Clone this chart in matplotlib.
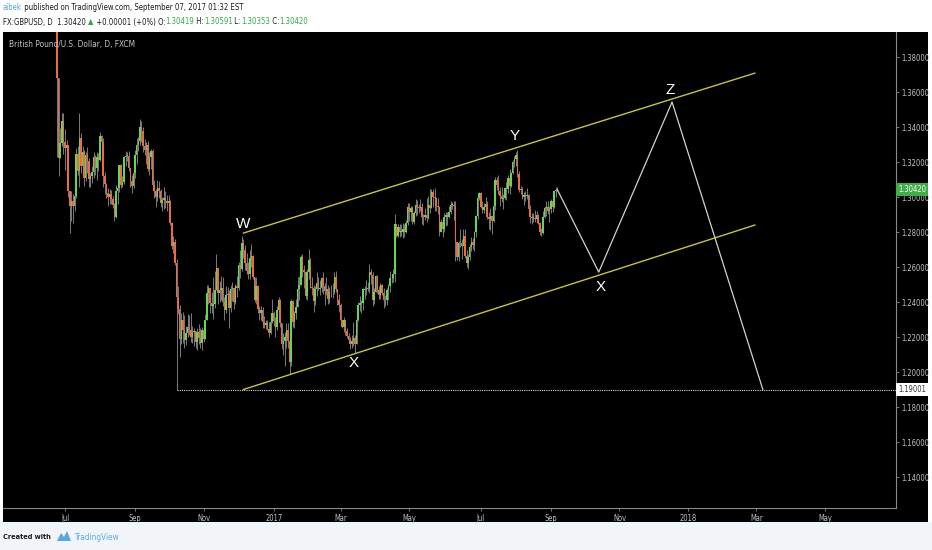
import numpy as np
import pandas as pd
import matplotlib
matplotlib.use("Agg")
import matplotlib.pyplot as plt
from matplotlib import font_manager
from matplotlib.patches import Rectangle, Polygon

W_PX, H_PX = 932, 550
SANS = ["Liberation Sans", "DejaVu Sans"]
# TradingView's screenshot text is narrow; use DejaVu Sans Condensed when it is installed
if any(f.name == "DejaVu Sans" and f.stretch == "condensed"
       for f in font_manager.fontManager.ttflist):
    TXT = dict(family="DejaVu Sans", stretch="condensed")
else:
    TXT = dict(family=SANS)

# ── daily GBPUSD bars (FXCM), Fri 2016-06-24 .. Thu 2017-09-07 ──
first_open = 1.4877
closes = [
    1.3679,
    1.3224, 1.3307, 1.3436, 1.3312, 1.3278,   # Jun 27
    1.3295, 1.3035, 1.2951, 1.2976, 1.2949,   # Jul 4
    1.3005, 1.3245, 1.3150, 1.3340, 1.3177,   # Jul 11
    1.3257, 1.3106, 1.3242, 1.3204, 1.3103,   # Jul 18
    1.3120, 1.3145, 1.3231, 1.3168, 1.3227,   # Jul 25
    1.3213, 1.3348, 1.3314, 1.3122, 1.3075,   # Aug 1
    1.3023, 1.3000, 1.3016, 1.2989, 1.2952,   # Aug 8
    1.2885, 1.3035, 1.3049, 1.3182, 1.3070,   # Aug 15
    1.3087, 1.3227, 1.3237, 1.3235, 1.3165,   # Aug 22
    1.3090, 1.3065, 1.3140, 1.3240, 1.3300,   # Aug 29
    1.3320, 1.3400, 1.3380, 1.3290, 1.3270,   # Sep 5
    1.3300, 1.3160, 1.3230, 1.3265, 1.3070,   # Sep 12
    1.3035, 1.3000, 1.3050, 1.3035, 1.2965,   # Sep 19
    1.2985, 1.2995, 1.2975, 1.2965, 1.2975,   # Sep 26
    1.2850, 1.2720, 1.2745, 1.2625, 1.2430,   # Oct 3
    1.2360, 1.2190, 1.2300, 1.2240, 1.2185,   # Oct 10
    1.2225, 1.2255, 1.2240, 1.2200, 1.2230,   # Oct 17
    1.2235, 1.2170, 1.2230, 1.2195, 1.2165,   # Oct 24
    1.2240, 1.2190, 1.2300, 1.2450, 1.2480,   # Oct 31
    1.2395, 1.2380, 1.2390, 1.2470, 1.2595,   # Nov 7
    1.2450, 1.2470, 1.2480, 1.2400, 1.2355,   # Nov 14
    1.2440, 1.2445, 1.2365, 1.2475, 1.2480,   # Nov 21
    1.2400, 1.2490, 1.2480, 1.2610, 1.2590,   # Nov 28
    1.2735, 1.2700, 1.2625, 1.2580, 1.2560,   # Dec 5
    1.2650, 1.2665, 1.2545, 1.2410, 1.2490,   # Dec 12
    1.2360, 1.2335, 1.2355, 1.2285, 1.2270,   # Dec 19
    1.2280, 1.2245, 1.2225, 1.2285, 1.2340,   # Dec 26
    1.2290, 1.2260, 1.2355, 1.2410, 1.2280,   # Jan 2
    1.2160, 1.2175, 1.2200, 1.2240, 1.2180,   # Jan 9
    1.2060, 1.2405, 1.2285, 1.2335, 1.2370,   # Jan 16
    1.2475, 1.2495, 1.2655, 1.2585, 1.2570,   # Jan 23
    1.2435, 1.2570, 1.2640, 1.2485, 1.2480,   # Jan 30
    1.2405, 1.2475, 1.2510, 1.2475, 1.2480,   # Feb 6
    1.2535, 1.2490, 1.2465, 1.2475, 1.2415,   # Feb 13
    1.2455, 1.2460, 1.2455, 1.2545, 1.2475,   # Feb 20
    1.2410, 1.2385, 1.2295, 1.2260, 1.2295,   # Feb 27
    1.2235, 1.2205, 1.2185, 1.2160, 1.2180,   # Mar 6
    1.2195, 1.2160, 1.2300, 1.2385, 1.2395,   # Mar 13
    1.2395, 1.2475, 1.2470, 1.2475, 1.2475,   # Mar 20
    1.2570, 1.2555, 1.2410, 1.2460, 1.2550,   # Mar 27
    1.2470, 1.2440, 1.2495, 1.2450, 1.2410,   # Apr 3
    1.2410, 1.2470, 1.2490, 1.2535, 1.2540,   # Apr 10
    1.2560, 1.2845, 1.2780, 1.2830, 1.2800,   # Apr 17
    1.2800, 1.2815, 1.2800, 1.2850, 1.2945,   # Apr 24
    1.2915, 1.2935, 1.2860, 1.2910, 1.2955,   # May 1
    1.2945, 1.2940, 1.2945, 1.2885, 1.2885,   # May 8
    1.2900, 1.2880, 1.2955, 1.2935, 1.3030,   # May 15
    1.3000, 1.2995, 1.2950, 1.2945, 1.2800,   # May 22
    1.2855, 1.2820, 1.2885, 1.2895, 1.2885,   # May 29
    1.2915, 1.2955, 1.2955, 1.2950, 1.2745,   # Jun 5
    1.2655, 1.2735, 1.2740, 1.2720, 1.2780,   # Jun 12
    1.2665, 1.2625, 1.2660, 1.2715, 1.2745,   # Jun 19
    1.2725, 1.2800, 1.2890, 1.2995, 1.3025,   # Jun 26
    1.2945, 1.2925, 1.2945, 1.2960, 1.2885,   # Jul 3
    1.2875, 1.2890, 1.2865, 1.2950, 1.3100,   # Jul 10
    1.3070, 1.3035, 1.3005, 1.2990, 1.2995,   # Jul 17
    1.3050, 1.3045, 1.3110, 1.3065, 1.3135,   # Jul 24
    1.3200, 1.3220, 1.3240, 1.3130, 1.3040,   # Jul 31
    1.3045, 1.3000, 1.3010, 1.3005, 1.3010,   # Aug 7
    1.2930, 1.2885, 1.2880, 1.2880, 1.2875,   # Aug 14
    1.2900, 1.2850, 1.2800, 1.2795, 1.2885,   # Aug 21
    1.2935, 1.2945, 1.2920, 1.2930, 1.2975,   # Aug 28
    1.2945, 1.3035, 1.30419, 1.30420,         # Sep 4
]
highs = [
    1.5018,
    1.3533, 1.3394, 1.3480, 1.3481, 1.3391,
    1.3327, 1.3297, 1.3030, 1.3036, 1.3017,
    1.3070, 1.3279, 1.3290, 1.3481, 1.3368,
    1.3294, 1.3270, 1.3255, 1.3286, 1.3225,
    1.3140, 1.3180, 1.3260, 1.3238, 1.3260,
    1.3250, 1.3371, 1.3352, 1.3338, 1.3145,
    1.3080, 1.3050, 1.3045, 1.3041, 1.3005,
    1.2965, 1.3070, 1.3080, 1.3185, 1.3190,
    1.3120, 1.3235, 1.3265, 1.3260, 1.3265,
    1.3150, 1.3125, 1.3165, 1.3270, 1.3340,
    1.3345, 1.3445, 1.3435, 1.3400, 1.3330,
    1.3315, 1.3320, 1.3255, 1.3275, 1.3275,
    1.3100, 1.3045, 1.3095, 1.3090, 1.3045,
    1.3000, 1.3055, 1.3035, 1.3010, 1.3010,
    1.2985, 1.2860, 1.2775, 1.2760, 1.2643,
    1.2490, 1.2385, 1.2335, 1.2345, 1.2325,
    1.2265, 1.2330, 1.2325, 1.2335, 1.2265,
    1.2250, 1.2230, 1.2250, 1.2275, 1.2250,
    1.2260, 1.2290, 1.2330, 1.2495, 1.2500,
    1.2470, 1.2455, 1.2544, 1.2580, 1.2674,
    1.2570, 1.2520, 1.2550, 1.2545, 1.2430,
    1.2490, 1.2485, 1.2470, 1.2500, 1.2515,
    1.2480, 1.2505, 1.2550, 1.2630, 1.2700,
    1.2775, 1.2762, 1.2725, 1.2680, 1.2630,
    1.2700, 1.2730, 1.2670, 1.2540, 1.2545,
    1.2500, 1.2380, 1.2375, 1.2370, 1.2320,
    1.2300, 1.2295, 1.2285, 1.2300, 1.2420,
    1.2350, 1.2315, 1.2380, 1.2430, 1.2415,
    1.2245, 1.2225, 1.2230, 1.2280, 1.2280,
    1.2125, 1.2415, 1.2410, 1.2350, 1.2420,
    1.2545, 1.2550, 1.2670, 1.2675, 1.2610,
    1.2575, 1.2590, 1.2705, 1.2650, 1.2545,
    1.2500, 1.2490, 1.2570, 1.2545, 1.2525,
    1.2545, 1.2570, 1.2510, 1.2545, 1.2495,
    1.2485, 1.2500, 1.2510, 1.2570, 1.2575,
    1.2470, 1.2445, 1.2395, 1.2300, 1.2315,
    1.2300, 1.2250, 1.2225, 1.2200, 1.2210,
    1.2285, 1.2210, 1.2305, 1.2400, 1.2435,
    1.2410, 1.2480, 1.2490, 1.2525, 1.2515,
    1.2615, 1.2590, 1.2570, 1.2480, 1.2555,
    1.2545, 1.2490, 1.2510, 1.2505, 1.2480,
    1.2440, 1.2480, 1.2505, 1.2580, 1.2560,
    1.2590, 1.2905, 1.2845, 1.2845, 1.2845,
    1.2845, 1.2850, 1.2845, 1.2870, 1.2965,
    1.2965, 1.2950, 1.2950, 1.2920, 1.2990,
    1.2985, 1.2960, 1.2990, 1.2965, 1.2905,
    1.2940, 1.2995, 1.3005, 1.3045, 1.3047,
    1.3045, 1.3050, 1.3000, 1.2995, 1.2950,
    1.2875, 1.2870, 1.2910, 1.2915, 1.2915,
    1.2950, 1.2980, 1.2970, 1.2975, 1.2980,
    1.2740, 1.2750, 1.2815, 1.2760, 1.2815,
    1.2815, 1.2700, 1.2675, 1.2730, 1.2770,
    1.2765, 1.2805, 1.2895, 1.3025, 1.3030,
    1.3030, 1.2975, 1.2965, 1.3000, 1.2975,
    1.2915, 1.2935, 1.2880, 1.2980, 1.3115,
    1.3115, 1.3125, 1.3055, 1.3055, 1.3015,
    1.3060, 1.3085, 1.3125, 1.3160, 1.3145,
    1.3210, 1.3235, 1.3255, 1.3267, 1.3150,
    1.3065, 1.3060, 1.3030, 1.3035, 1.3050,
    1.3015, 1.2955, 1.2910, 1.2910, 1.2925,
    1.2920, 1.2905, 1.2855, 1.2825, 1.2920,
    1.2945, 1.2980, 1.2980, 1.2950, 1.2990,
    1.2975, 1.3040, 1.3060, 1.30591,
]
lows = [
    1.3229,
    1.3122, 1.3224, 1.3291, 1.3248, 1.3155,
    1.3207, 1.2998, 1.2796, 1.2865, 1.2850,
    1.2920, 1.2992, 1.3125, 1.3055, 1.3140,
    1.3114, 1.3065, 1.3091, 1.3140, 1.3060,
    1.3060, 1.3080, 1.3108, 1.3123, 1.3100,
    1.3150, 1.3205, 1.3256, 1.3060, 1.3015,
    1.2995, 1.2950, 1.2958, 1.2960, 1.2937,
    1.2865, 1.2880, 1.2960, 1.3030, 1.3050,
    1.3055, 1.3075, 1.3180, 1.3205, 1.3150,
    1.3060, 1.3025, 1.3050, 1.3110, 1.3190,
    1.3265, 1.3300, 1.3315, 1.3260, 1.3240,
    1.3190, 1.3150, 1.3125, 1.3160, 1.3055,
    1.2995, 1.2945, 1.2975, 1.2995, 1.2945,
    1.2920, 1.2930, 1.2940, 1.2920, 1.2915,
    1.2840, 1.2705, 1.2680, 1.2610, 1.1900,
    1.2330, 1.2085, 1.2160, 1.2165, 1.2135,
    1.2155, 1.2200, 1.2210, 1.2170, 1.2165,
    1.2150, 1.2140, 1.2125, 1.2160, 1.2135,
    1.2125, 1.2170, 1.2200, 1.2295, 1.2390,
    1.2340, 1.2340, 1.2305, 1.2365, 1.2470,
    1.2390, 1.2400, 1.2410, 1.2380, 1.2300,
    1.2340, 1.2390, 1.2250, 1.2345, 1.2405,
    1.2360, 1.2390, 1.2430, 1.2470, 1.2540,
    1.2580, 1.2650, 1.2585, 1.2560, 1.2530,
    1.2530, 1.2600, 1.2530, 1.2400, 1.2390,
    1.2335, 1.2300, 1.2300, 1.2250, 1.2250,
    1.2245, 1.2240, 1.2200, 1.2220, 1.2280,
    1.2265, 1.2200, 1.2240, 1.2320, 1.2260,
    1.2130, 1.2100, 1.2035, 1.2140, 1.2140,
    1.1987, 1.2035, 1.2255, 1.2250, 1.2305,
    1.2400, 1.2410, 1.2510, 1.2545, 1.2480,
    1.2415, 1.2410, 1.2530, 1.2480, 1.2440,
    1.2345, 1.2385, 1.2435, 1.2470, 1.2440,
    1.2460, 1.2445, 1.2385, 1.2440, 1.2390,
    1.2395, 1.2430, 1.2425, 1.2445, 1.2455,
    1.2385, 1.2345, 1.2270, 1.2250, 1.2230,
    1.2210, 1.2195, 1.2175, 1.2130, 1.2135,
    1.2150, 1.2110, 1.2160, 1.2290, 1.2350,
    1.2340, 1.2355, 1.2420, 1.2440, 1.2465,
    1.2450, 1.2505, 1.2375, 1.2390, 1.2455,
    1.2450, 1.2420, 1.2420, 1.2440, 1.2365,
    1.2375, 1.2385, 1.2410, 1.2460, 1.2510,
    1.2515, 1.2515, 1.2770, 1.2770, 1.2770,
    1.2775, 1.2765, 1.2770, 1.2795, 1.2840,
    1.2865, 1.2865, 1.2845, 1.2845, 1.2890,
    1.2900, 1.2910, 1.2920, 1.2845, 1.2840,
    1.2870, 1.2860, 1.2875, 1.2910, 1.2935,
    1.2945, 1.2920, 1.2920, 1.2905, 1.2775,
    1.2810, 1.2770, 1.2800, 1.2835, 1.2840,
    1.2880, 1.2905, 1.2930, 1.2870, 1.2635,
    1.2640, 1.2635, 1.2715, 1.2645, 1.2745,
    1.2650, 1.2600, 1.2589, 1.2640, 1.2690,
    1.2705, 1.2690, 1.2770, 1.2875, 1.2985,
    1.2935, 1.2910, 1.2910, 1.2935, 1.2875,
    1.2815, 1.2810, 1.2790, 1.2855, 1.2925,
    1.3040, 1.3015, 1.2950, 1.2970, 1.2930,
    1.2990, 1.2985, 1.3025, 1.3015, 1.3055,
    1.3130, 1.3170, 1.3175, 1.3115, 1.3030,
    1.3020, 1.2990, 1.2955, 1.2980, 1.2990,
    1.2920, 1.2850, 1.2845, 1.2855, 1.2855,
    1.2850, 1.2845, 1.2785, 1.2775, 1.2790,
    1.2880, 1.2890, 1.2905, 1.2860, 1.2910,
    1.2915, 1.2940, 1.3000, 1.30353,
]

# ── drawings on the chart ──
channel_dates = ["2016-12-06", "2018-02-28"]
channel_upper = [1.2794, 1.3708]
channel_lower = [1.1900, 1.2840]
path_dates = ["2017-09-07", "2017-10-13", "2017-12-18", "2018-03-07"]
path_prices = [1.30420, 1.2571, 1.3543, 1.1900]
wave_labels = ["W", "X", "Y", "X", "Z"]
wave_dates = ["2016-12-06", "2017-03-13", "2017-08-01", "2017-10-16", "2017-12-15"]
wave_prices = [1.2846, 1.2052, 1.3348, 1.2486, 1.3611]
support_level = 1.19001
support_from = "2016-10-07"
last_price = 1.30420

tick_months = ["2016-07", "2016-09", "2016-11", "2017-01", "2017-03", "2017-05",
               "2017-07", "2017-09", "2017-11", "2018-01", "2018-03", "2018-05"]
tick_names = ["Jul", "Sep", "Nov", "2017", "Mar", "May",
              "Jul", "Sep", "Nov", "2018", "Mar", "May"]

UP, DOWN, WICK = "#66d456", "#ee6a42", "#8f8f8f"
CHANNEL, PATH, AXTXT = "#c6c63a", "#d2d2d2", "#c4c4c4"

origin = np.datetime64("2016-07-01")


def bidx(d):
    """bar index (business days from origin) for dates"""
    d = np.asarray(d, dtype="datetime64[D]")
    return np.busday_count(origin, d)


def first_bday(month):
    return np.busday_offset(np.datetime64(month + "-01"), 0, roll="forward")


def fx(px):
    return px / W_PX


def fy(py):
    return 1 - py / H_PX


fig = plt.figure(figsize=(W_PX / 100, H_PX / 100), dpi=100, facecolor="white")
renderer = fig.canvas.get_renderer()
fig.patches.append(Rectangle((0, 0), 1, fy(522), transform=fig.transFigure,
                             fc="#f1f4f9", ec="none", zorder=-3))
fig.patches.append(Rectangle((fx(3), fy(522)), fx(925), fy(32) - fy(522),
                             transform=fig.transFigure, fc="black", ec="none", zorder=-2))


def fit_size(txt, width_px, weight="normal"):
    """font size that makes txt about width_px wide"""
    t = fig.text(0, 0, txt, fontsize=10, weight=weight, **TXT)
    w = t.get_window_extent(renderer).width
    t.remove()
    return 10 * width_px / w


ax = fig.add_axes([fx(3), fy(508), fx(893), fy(32) - fy(508)])
ax.set_facecolor("black")

# ── candles ──
dates = pd.bdate_range("2016-06-24", periods=len(closes)).values.astype("datetime64[D]")
xs = bidx(dates)
c = np.array(closes)
o = np.concatenate([[first_open], c[:-1]])
h = np.maximum(np.array(highs), np.maximum(o, c))
l = np.minimum(np.array(lows), np.minimum(o, c))
up = c >= o
ax.vlines(xs, l, h, colors=WICK, lw=0.6, zorder=2)
body_lo = np.minimum(o, c)
body_h = np.maximum(np.abs(c - o), 0.0003)
ax.bar(xs, body_h, bottom=body_lo, width=0.95,
       color=np.where(up, UP, DOWN), linewidth=0, zorder=3)

# ── channel, projection and level ──
cx = bidx(channel_dates)
ax.plot(cx, channel_upper, color=CHANNEL, lw=1.0, zorder=4)
ax.plot(cx, channel_lower, color=CHANNEL, lw=1.0, zorder=4)
ax.plot(bidx(path_dates), path_prices, color=PATH, lw=0.9, zorder=4)

ppb = (825 - 65) / bidx("2018-05-01")
x_left = (3 - 65) / ppb
x_right = (896 - 65) / ppb
ax.hlines(support_level, bidx(support_from), x_right, colors="#d8d8d8",
          linestyles=(0, (1, 1)), lw=0.8, zorder=4)

for lab, d, p in zip(wave_labels, wave_dates, wave_prices):
    ax.text(bidx(d), p, lab, color="white", fontsize=11, ha="center", va="center",
            family=SANS, zorder=6)

ax.set_xlim(x_left, x_right)
ax.set_ylim(1.1223, 1.3943)

# ── axes ──
for s in ["top", "left"]:
    ax.spines[s].set_visible(False)
for s in ["right", "bottom"]:
    ax.spines[s].set_color("#8a8a8a")
    ax.spines[s].set_linewidth(0.8)

lab_size = fit_size("1.38000", 28)

ax.yaxis.tick_right()
yt = np.round(np.arange(1.14, 1.3801, 0.02), 2)
ax.set_yticks(yt)
ax.set_yticklabels([f"{v:.5f}" for v in yt], **TXT)
ax.tick_params(axis="y", colors="#8a8a8a", labelcolor=AXTXT, labelsize=lab_size,
               length=2.5, width=0.6, pad=1.5)

ax.set_xticks([bidx(first_bday(m)) for m in tick_months])
ax.set_xticklabels(tick_names, **TXT)
ax.tick_params(axis="x", colors="#8a8a8a", labelcolor=AXTXT, labelsize=lab_size,
               length=2.5, width=0.6, pad=2)

ytr = ax.get_yaxis_transform()
ax.text(1.0025, last_price, f"{last_price:.5f}", transform=ytr, ha="left", va="center",
        color="white", fontsize=lab_size, clip_on=False, zorder=10,
        bbox=dict(boxstyle="square,pad=0.3", fc="#3fae49", ec="none"), **TXT)
ax.text(1.0025, support_level, f"{support_level:.5f}", transform=ytr, ha="left",
        va="center", color="#333333", fontsize=lab_size, clip_on=False, zorder=10,
        bbox=dict(boxstyle="square,pad=0.3", fc="white", ec="none"), **TXT)


# ── header, footer and chart title, each run fitted to its width in the reference ──
def text_run(x_px, y_px, parts, width_px, weight="normal"):
    size = fit_size("".join(p[0] for p in parts), width_px, weight)
    x = x_px
    for txt, col in parts:
        t = fig.text(fx(x), fy(y_px), txt, color=col, fontsize=size, weight=weight,
                     ha="left", va="center", **TXT)
        x += t.get_window_extent(renderer).width


DARK, GREEN, BLUE = "#1a1a1a", "#2fa84a", "#4ea6e6"
text_run(3, 8, [("aibek", BLUE),
                (" published on TradingView.com, September 07, 2017 01:32 EST", DARK)], 242)
text_run(3, 22, [("FX:GBPUSD, D  1.30420 ", DARK), ("\u25b2", GREEN),
                 (" +0.00001 (+0%) O:", DARK), ("1.30419", GREEN), (" H:", DARK),
                 ("1.30591", GREEN), (" L:", DARK), ("1.30353", GREEN),
                 (" C:", DARK), ("1.30420", GREEN)], 306)
text_run(9, 45, [("British Pound/U.S. Dollar, D, FXCM", AXTXT)], 127)
text_run(3, 537, [("Created with", DARK)], 48, weight="bold")
fig.patches.append(Polygon([(fx(57), fy(541)), (fx(61), fy(533)), (fx(64), fy(537)),
                            (fx(67), fy(531)), (fx(71), fy(541))],
                           closed=True, transform=fig.transFigure, fc="#5aa7e0", ec="none"))
text_run(74, 537, [("TradingView", "#5aaee6")], 45)

fig.savefig("out.png", dpi=100, facecolor=fig.get_facecolor())
